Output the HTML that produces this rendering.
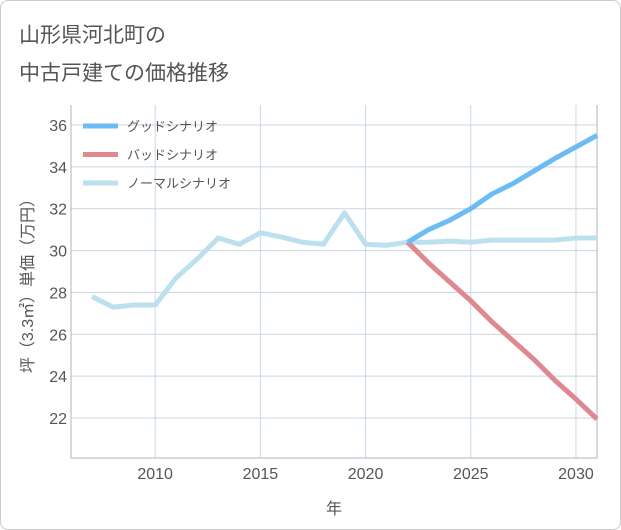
<!DOCTYPE html>
<html><head><meta charset="utf-8"><style>
body{margin:0;background:#fff;}
#wrap{position:relative;width:619px;height:528px;border:1px solid #ccc;border-radius:8px;background:#fff;overflow:hidden;font-family:"Liberation Sans","Noto Sans CJK JP",sans-serif;}
.title{position:absolute;left:18px;font-size:21px;color:#555;}
</style></head><body>
<div id="wrap">
<div class="title" style="top:18px">山形県河北町の</div>
<div class="title" style="top:56px">中古戸建ての価格推移</div>
<svg id="chart" width="621" height="530" style="position:absolute;left:-1px;top:-1px"></svg>
</div>
<script>
const years=[2007,2008,2009,2010,2011,2012,2013,2014,2015,2016,2017,2018,2019,2020,2021,2022,2023,2024,2025,2026,2027,2028,2029,2030,2031];
const normalVals=[27.8,27.3,27.4,27.4,28.7,29.6,30.6,30.3,30.85,30.65,30.4,30.3,31.8,30.3,30.25,30.4,30.4,30.45,30.4,30.5,30.5,30.5,30.5,30.6,30.6];
const futureYears=[2022,2023,2024,2025,2026,2027,2028,2029,2030,2031];
const goodVals=[30.4,31.0,31.45,32.0,32.7,33.2,33.8,34.4,34.95,35.5];
const badVals=[30.4,29.4,28.5,27.6,26.6,25.7,24.8,23.8,22.9,21.95];
const yTicks=[22,24,26,28,30,32,34,36];
const xTicks=[2010,2015,2020,2025,2030];
const legendLabels=["グッドシナリオ","バッドシナリオ","ノーマルシナリオ"];
const colors=["#6bbcf2","#e0888f","#bde0ef"];
const L=71,R=597,T=105,B=458;
const x=v=>L+(v-2006)*(R-L)/(2031-2006);
const y=v=>418-(v-22)*(418-125)/14;
const svg=document.getElementById('chart');
const NS='http://www.w3.org/2000/svg';
function mk(t,a){const e=document.createElementNS(NS,t);for(const k in a)e.setAttribute(k,a[k]);svg.appendChild(e);return e;}
for(const t of yTicks){
 const l=mk('line',{x1:L,x2:R,y1:y(t),y2:y(t),stroke:'#c8d4e0','stroke-width':1});
 
 
 const tx=mk('text',{x:L-4,y:y(t)+6,'text-anchor':'end','font-size':16,fill:'#555','font-family':'Liberation Sans'});
 tx.textContent=t;
 
 
}
for(const t of xTicks){
 const l=mk('line',{x1:x(t),x2:x(t),y1:T,y2:B,stroke:'#c8d8e6','stroke-width':1});
 
 
 const tx=mk('text',{x:x(t),y:B+21,'text-anchor':'middle','font-size':16,fill:'#555','font-family':'Liberation Sans'});
 tx.textContent=t;
 
 
}
const ax=mk('path',{d:`M${L} ${T}V${B}H${R}V${T}`,fill:'none',stroke:'#aab4bf','stroke-width':1});


function line(xs,vs,c,name){
 const p=mk('polyline',{points:xs.map((v,i)=>x(v)+','+y(vs[i])).join(' '),fill:'none',stroke:c,'stroke-width':5,'stroke-linejoin':'round'});
 
 
}
line(years,normalVals,colors[2],'normal-scenario-line');
line(futureYears,badVals,colors[1],'bad-scenario-line');
line(futureYears,goodVals,colors[0],'good-scenario-line');
legendLabels.forEach((lb,i)=>{
 const yy=126+i*28.5;
 const l=mk('line',{x1:83,x2:118,y1:yy,y2:yy,stroke:colors[i],'stroke-width':5});
 
 
 const t=mk('text',{x:127,y:yy+5,'font-size':13,fill:'#555','font-family':'Liberation Sans, Noto Sans CJK JP, sans-serif'});
 t.textContent=lb;
 
 
});
const yt=mk('text',{transform:'translate(33,282) rotate(-90)','text-anchor':'middle','font-size':16,fill:'#555','font-family':'Liberation Sans, Noto Sans CJK JP, sans-serif'});
yt.textContent='坪（3.3㎡）単価（万円）';


const xt=mk('text',{x:334,y:514,'text-anchor':'middle','font-size':16,fill:'#555','font-family':'Liberation Sans, Noto Sans CJK JP, sans-serif'});
xt.textContent='年';


</script>
</body></html>
